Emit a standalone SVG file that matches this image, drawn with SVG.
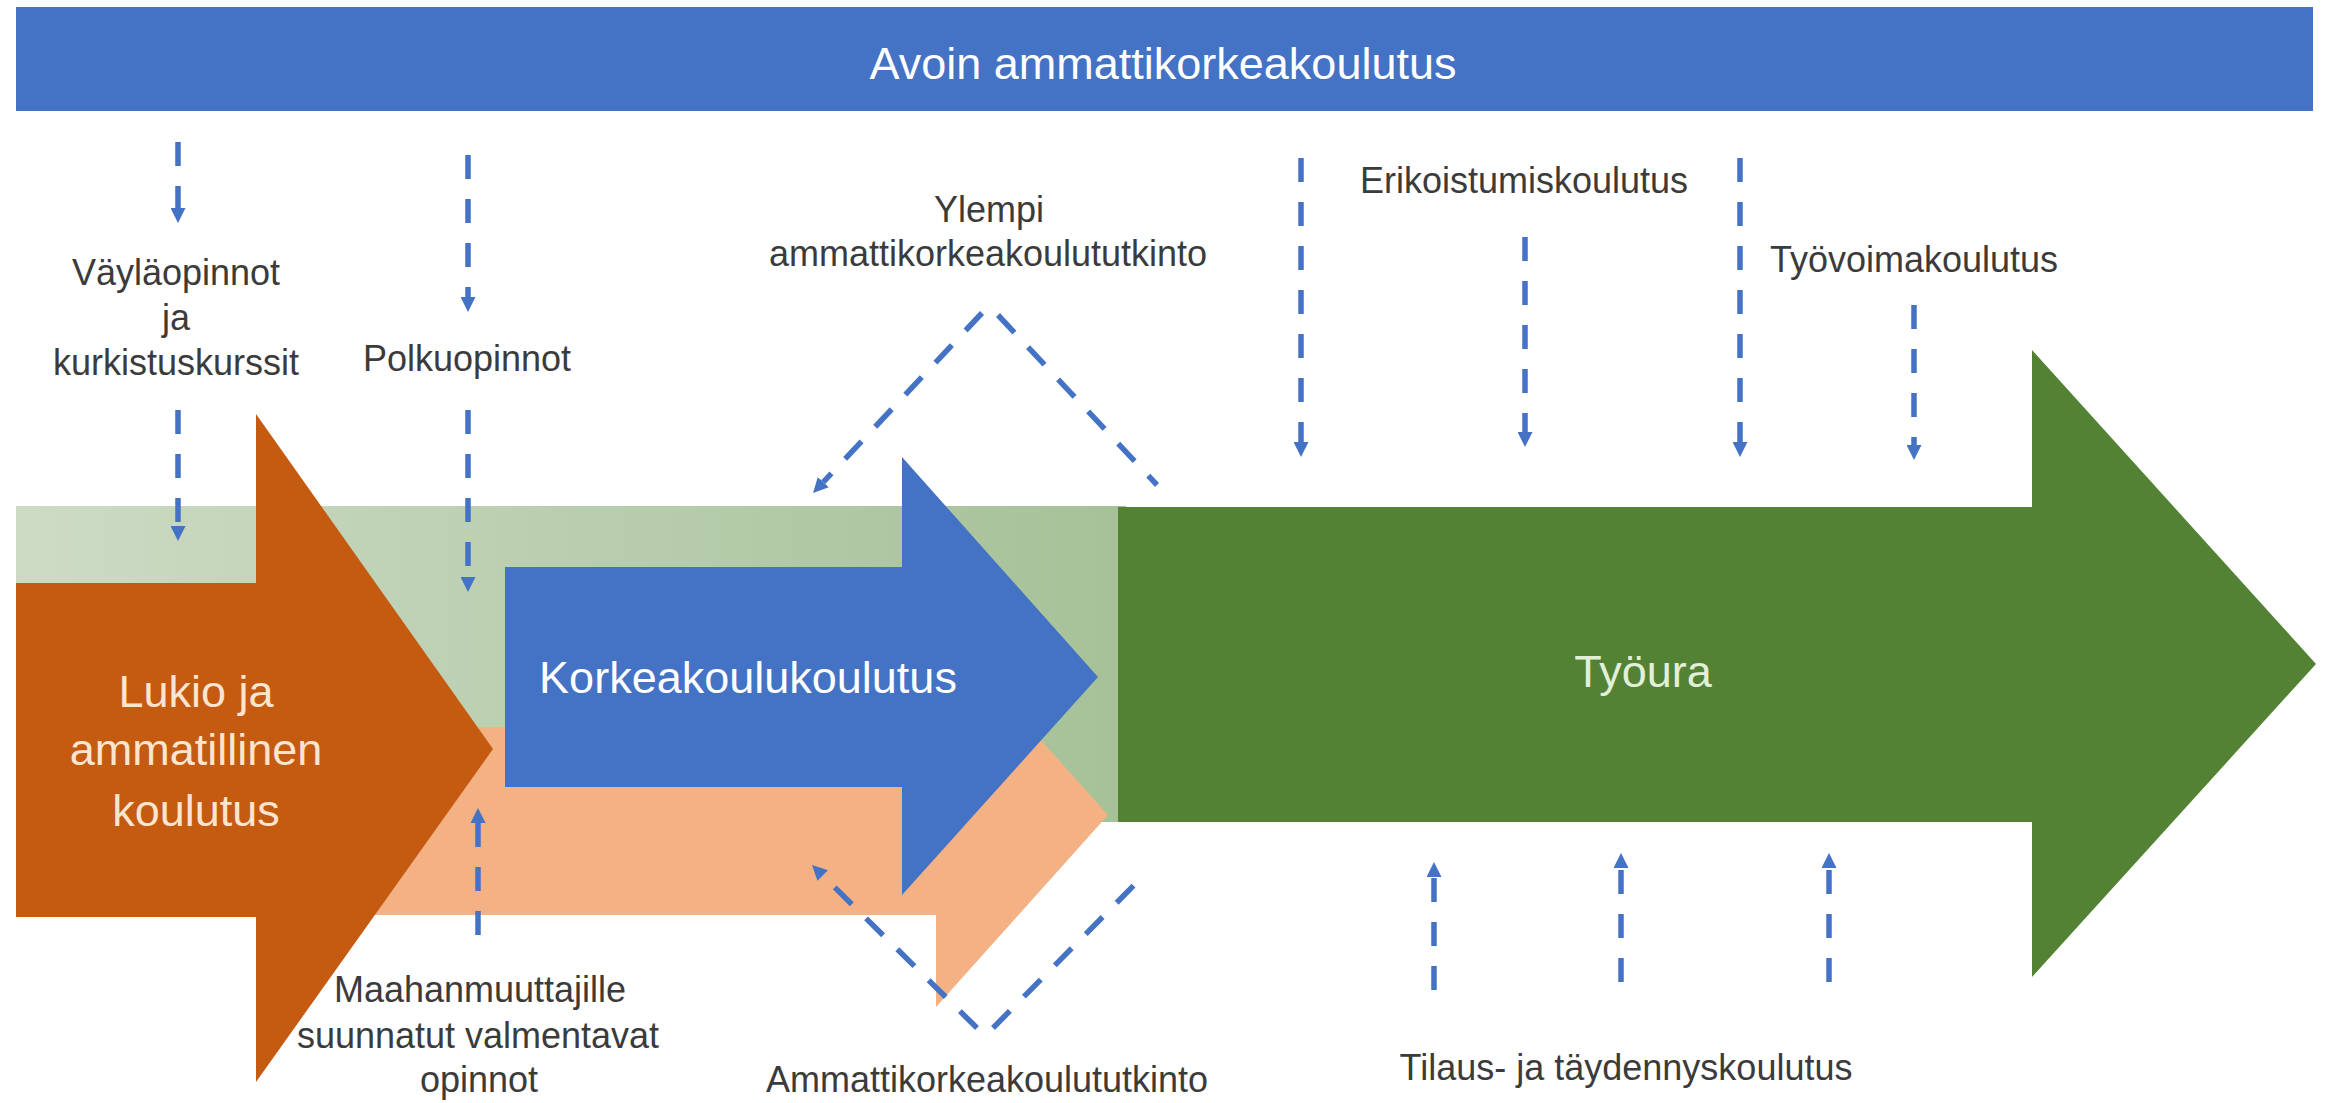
<svg xmlns="http://www.w3.org/2000/svg" width="2326" height="1103" viewBox="0 0 2326 1103">
<style>
.lbl{font-family:"Liberation Sans",Arial,sans-serif;font-size:36px;fill:#3b3b3b;text-anchor:middle}
.big{font-family:"Liberation Sans",Arial,sans-serif;font-size:45px;text-anchor:middle}
.dash{fill:none;stroke:#4472C4;stroke-width:5.5;stroke-dasharray:24 20}
.arr{marker-end:url(#ah)}
</style>
<defs>
<linearGradient id="lg" x1="0" y1="0" x2="1" y2="0">
<stop offset="0" stop-color="#cddbc5"/>
<stop offset="1" stop-color="#a6c198"/>
</linearGradient>
<marker id="ah" viewBox="0 0 10 10" refX="0" refY="5" markerWidth="15" markerHeight="15" markerUnits="userSpaceOnUse" orient="auto">
<path d="M0,0 L10,5 L0,10 z" fill="#4472C4"/>
</marker>
</defs>
<rect width="2326" height="1103" fill="#ffffff"/>

<g id="avoin">
<rect x="16" y="7" width="2297" height="104" fill="#4472C4"/>
<text class="big" x="1163" y="79" fill="#ffffff">Avoin ammattikorkeakoulutus</text>
</g>

<g id="tausta-vihrea">
<rect x="16" y="506" width="1110" height="316" fill="url(#lg)"/>
</g>

<g id="tausta-persikka">
<polygon points="16,727 936,727 936,623 1108,815 936,1007 936,915 16,915" fill="#F4B183"/>
</g>

<g id="tyoura">
<polygon points="1118,507 2032,507 2032,350 2316,664 2032,977 2032,822 1118,822" fill="#548235"/>
<text class="big" x="1643" y="687" fill="#e2f0d9">Työura</text>
</g>

<g id="lukio">
<polygon points="16,583 256,583 256,414 493,749 256,1082 256,917 16,917" fill="#C55A11"/>
<text class="big" fill="#fbe5d0"><tspan x="196" y="707">Lukio ja</tspan><tspan x="196" y="765">ammatillinen</tspan><tspan x="196" y="826">koulutus</tspan></text>
</g>

<g id="korkeakoulu">
<polygon points="505,567 902,567 902,457 1098,677 902,895 902,787 505,787" fill="#4472C4"/>
<text class="big" x="748" y="693" fill="#ffffff">Korkeakoulukoulutus</text>
</g>

<g id="connectors">
<line class="dash arr" x1="178" y1="142" x2="178" y2="208"/>
<line class="dash arr" x1="178" y1="410" x2="178" y2="526"/>
<line class="dash arr" x1="468" y1="155" x2="468" y2="297"/>
<line class="dash arr" x1="468" y1="410" x2="468" y2="577"/>
<line class="dash arr" x1="478" y1="935" x2="478" y2="823"/>
<line class="dash arr" x1="982" y1="313" x2="823.3" y2="482.1"/>
<line class="dash" x1="998" y1="315" x2="1157" y2="485"/>
<line class="dash arr" x1="977" y1="1028" x2="822.7" y2="875.5"/>
<line class="dash" x1="993" y1="1028" x2="1147" y2="872"/>
<line class="dash arr" x1="1301" y1="158" x2="1301" y2="442"/>
<line class="dash arr" x1="1525" y1="237" x2="1525" y2="432"/>
<line class="dash arr" x1="1740" y1="158" x2="1740" y2="442"/>
<line class="dash arr" x1="1914" y1="305" x2="1914" y2="445"/>
<line class="dash arr" x1="1434" y1="990" x2="1434" y2="877"/>
<line class="dash arr" x1="1621" y1="982" x2="1621" y2="868"/>
<line class="dash arr" x1="1829" y1="982" x2="1829" y2="868"/>
</g>

<g id="vaylaopinnot">
<text class="lbl"><tspan x="176" y="285">Väyläopinnot</tspan><tspan x="176" y="330">ja</tspan><tspan x="176" y="375">kurkistuskurssit</tspan></text>
</g>
<g id="polkuopinnot">
<text class="lbl" x="467" y="371">Polkuopinnot</text>
</g>
<g id="ylempi">
<text class="lbl"><tspan x="989" y="222">Ylempi</tspan><tspan x="988" y="266">ammattikorkeakoulututkinto</tspan></text>
</g>
<g id="erikoistumis">
<text class="lbl" x="1524" y="193">Erikoistumiskoulutus</text>
</g>
<g id="tyovoima">
<text class="lbl" x="1914" y="272">Työvoimakoulutus</text>
</g>
<g id="maahanmuuttajat">
<text class="lbl"><tspan x="480" y="1002">Maahanmuuttajille</tspan><tspan x="478" y="1048">suunnatut valmentavat</tspan><tspan x="479" y="1092">opinnot</tspan></text>
</g>
<g id="amk">
<text class="lbl" x="987" y="1092">Ammattikorkeakoulututkinto</text>
</g>
<g id="tilaus">
<text class="lbl" x="1626" y="1080">Tilaus- ja täydennyskoulutus</text>
</g>
</svg>
